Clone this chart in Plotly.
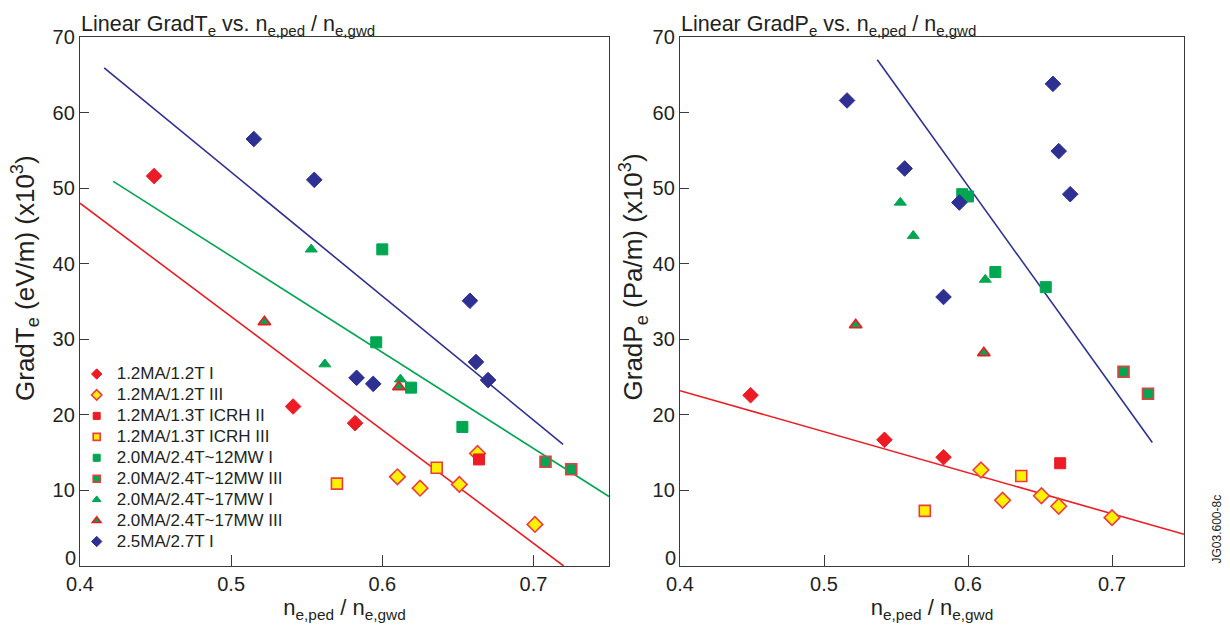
import plotly.graph_objects as go

# ---------------- data ----------------
# x: n_e,ped / n_e,gwd ; T: GradTe (x10^3 eV/m) ; P: GradPe (x10^3 Pa/m)
names = ["1.2MA/1.2T I", "1.2MA/1.2T III", "1.2MA/1.3T ICRH II", "1.2MA/1.3T ICRH III",
         "2.0MA/2.4T~12MW I", "2.0MA/2.4T~12MW III", "2.0MA/2.4T~17MW I",
         "2.0MA/2.4T~17MW III", "2.5MA/2.7T I"]

a_xT = [0.449, 0.541, 0.582]
a_yT = [51.6, 21.1, 18.9]
a_xP = [0.449, 0.542, 0.583]
a_yP = [22.6, 16.7, 14.4]

b_xT = [0.610, 0.625, 0.651, 0.663, 0.701]
b_yT = [11.8, 10.3, 10.8, 14.9, 5.5]
b_xP = [0.609, 0.624, 0.651, 0.663, 0.700]
b_yP = [12.7, 8.7, 9.3, 7.9, 6.4]

c_xT = [0.664]
c_yT = [14.1]
c_xP = [0.664]
c_yP = [13.6]

d_xT = [0.570, 0.636]
d_yT = [10.9, 13.0]
d_xP = [0.570, 0.637]
d_yP = [7.3, 11.9]

e_xT = [0.600, 0.596, 0.619, 0.653]
e_yT = [41.9, 29.6, 23.6, 18.4]
e_xP = [0.596, 0.600, 0.619, 0.654]
e_yP = [49.2, 48.9, 38.9, 36.9]

f_xT = [0.708, 0.725]
f_yT = [13.8, 12.8]
f_xP = [0.708, 0.725]
f_yP = [25.7, 22.8]

g_xT = [0.553, 0.562, 0.612]
g_yT = [41.9, 26.7, 24.7]
g_xP = [0.553, 0.562, 0.612]
g_yP = [48.1, 43.7, 37.9]

h_xT = [0.522, 0.611]
h_yT = [32.3, 23.7]
h_xP = [0.522, 0.611]
h_yP = [31.9, 28.2]

i_xT = [0.515, 0.555, 0.658, 0.662, 0.670, 0.583, 0.594]
i_yT = [56.5, 51.1, 35.1, 27.0, 24.6, 24.9, 24.1]
i_xP = [0.516, 0.556, 0.594, 0.583, 0.659, 0.663, 0.671]
i_yP = [61.6, 52.6, 48.1, 35.6, 63.8, 54.9, 49.2]

# linear fits (end points)
fitT_red_x = [0.400, 0.720]
fitT_red_y = [48.0, 0.0]
fitT_green_x = [0.422, 0.750]
fitT_green_y = [50.9, 9.2]
fitT_blue_x = [0.416, 0.7196]
fitT_blue_y = [65.9, 16.1]
fitP_red_x = [0.400, 0.750]
fitP_red_y = [23.2, 4.2]
fitP_blue_x = [0.537, 0.728]
fitP_blue_y = [67.0, 16.35]

x_ticks = [0.4, 0.5, 0.6, 0.7]
y_ticks = [0, 10, 20, 30, 40, 50, 60, 70]
y_ticktext = ["", "10", "20", "30", "40", "50", "60", "70"]  # "0" drawn separately, raised

# ---------------- styles ----------------
RED = "#ED1C24"
EDGE = "#EE3B42"
YEL = "#FFF200"
GRN = "#00A651"
BLU = "#2E3192"
INK = "#231F20"
FONT = "Liberation Sans, Arial, sans-serif"

styles = [
    dict(symbol="diamond", color=RED, line=dict(color=RED, width=1), size=12),
    dict(symbol="diamond", color=YEL, line=dict(color=EDGE, width=1.6), size=12),
    dict(symbol="square", color=RED, line=dict(color=RED, width=1), size=11),
    dict(symbol="square", color=YEL, line=dict(color=EDGE, width=1.6), size=11),
    dict(symbol="square", color=GRN, line=dict(color=GRN, width=1), size=11),
    dict(symbol="square", color=GRN, line=dict(color=EDGE, width=1.6), size=11),
    dict(symbol="triangle-up", color=GRN, line=dict(color=GRN, width=1), size=10.5),
    dict(symbol="triangle-up", color=GRN, line=dict(color=RED, width=1.6), size=11),
    dict(symbol="diamond", color=BLU, line=dict(color=BLU, width=1), size=12),
]
legend_sizes = [8, 8, 7, 7, 7, 7, 7.5, 7.5, 8]

seriesT = [(a_xT, a_yT), (b_xT, b_yT), (c_xT, c_yT), (d_xT, d_yT), (e_xT, e_yT),
           (f_xT, f_yT), (g_xT, g_yT), (h_xT, h_yT), (i_xT, i_yT)]
seriesP = [(a_xP, a_yP), (b_xP, b_yP), (c_xP, c_yP), (d_xP, d_yP), (e_xP, e_yP),
           (f_xP, f_yP), (g_xP, g_yP), (h_xP, h_yP), (i_xP, i_yP)]

fig = go.Figure()

# fit lines
for xs, ys, col, ax in [(fitT_red_x, fitT_red_y, RED, 1), (fitT_green_x, fitT_green_y, GRN, 1),
                        (fitT_blue_x, fitT_blue_y, BLU, 1), (fitP_red_x, fitP_red_y, RED, 2),
                        (fitP_blue_x, fitP_blue_y, BLU, 2)]:
    fig.add_trace(go.Scatter(x=xs, y=ys, mode="lines", line=dict(color=col, width=1.6),
                             showlegend=False, hoverinfo="skip",
                             xaxis="x" if ax == 1 else "x2", yaxis="y" if ax == 1 else "y2"))

for k, st in enumerate(styles):
    xs, ys = seriesT[k]
    fig.add_trace(go.Scatter(x=xs, y=ys, mode="markers", marker=st, showlegend=False,
                             name=names[k], xaxis="x", yaxis="y"))
    xs, ys = seriesP[k]
    fig.add_trace(go.Scatter(x=xs, y=ys, mode="markers", marker=st, showlegend=False,
                             name=names[k], xaxis="x2", yaxis="y2"))

# legend entries (smaller markers, larger text than the row pitch implies)
for k, st in enumerate(styles):
    lst = dict(st)
    lst["size"] = legend_sizes[k]
    fig.add_trace(go.Scatter(x=[None], y=[None], mode="markers", marker=lst,
                             name='<span style="font-size:17px">' + names[k] + "</span>",
                             showlegend=True, xaxis="x", yaxis="y"))

# page body has an 8px default margin -> figure drawn at (8, 8)
OFF = 8
W, H = 1230 - OFF, 626 - OFF
L, R, T, B = 80 - OFF, 46, 37 - OFF, 60
PW = W - L - R
PH = H - T - B
d1 = [0, (609 - 80) / PW]
d2 = [(680 - 80) / PW, 1]

axis_common = dict(showline=True, linecolor="#3A3A3A", linewidth=1.3, mirror=True,
                   ticks="inside", tickcolor="#3A3A3A", tickwidth=1.3, showgrid=False,
                   zeroline=False, tickfont=dict(family=FONT, size=20, color=INK))
tick_font = dict(family=FONT, size=20, color=INK)
xtitle_font = dict(family=FONT, size=22, color=INK)
ytitle_font = dict(family=FONT, size=26, color=INK)

fig.update_layout(
    width=W, height=H, margin=dict(l=L, r=R, t=T, b=B),
    paper_bgcolor="white", plot_bgcolor="white",
    font=dict(family=FONT, color=INK),
    xaxis=dict(domain=d1, range=[0.4, 0.75], tickvals=x_ticks, ticklen=11, **axis_common,
               title=dict(text="n<sub>e,ped</sub> / n<sub>e,gwd</sub>", font=xtitle_font,
                          standoff=2)),
    yaxis=dict(domain=[0, 1], range=[0, 70], tickvals=y_ticks, ticktext=y_ticktext,
               ticklen=9, **axis_common),
    xaxis2=dict(domain=d2, range=[0.4, 0.75], tickvals=x_ticks, ticklen=11, anchor="y2",
                **axis_common,
                title=dict(text="n<sub>e,ped</sub> / n<sub>e,gwd</sub>", font=xtitle_font,
                           standoff=2)),
    yaxis2=dict(domain=[0, 1], range=[0, 70], tickvals=y_ticks, ticktext=y_ticktext,
                ticklen=9, anchor="x2", **axis_common),
    legend=dict(x=-0.003, y=0.016, xanchor="left", yanchor="bottom", bgcolor="rgba(0,0,0,0)",
                font=dict(family=FONT, size=13.8, color=INK), tracegroupgap=0,
                itemwidth=30),
    showlegend=True,
)

# raised "0" tick labels
for xd, yr in [(d1[0], "y"), (d2[0], "y2")]:
    fig.add_annotation(text=str(y_ticks[0]), xref="paper", yref=yr, x=xd, y=y_ticks[0],
                       xanchor="right", yanchor="middle", showarrow=False, font=tick_font,
                       xshift=-2, yshift=8)

# y-axis titles (rotated), bottom of text near y=403 px
ybot = (566 - 403) / PH
fig.add_annotation(text="GradT<sub>e</sub> (eV/m) (x10<sup>3</sup>)", textangle=-90,
                   xref="paper", yref="paper", x=d1[0], y=ybot, xanchor="center",
                   yanchor="bottom", showarrow=False, font=ytitle_font, xshift=-55)
fig.add_annotation(text="GradP<sub>e</sub> (Pa/m) (x10<sup>3</sup>)", textangle=-90,
                   xref="paper", yref="paper", x=d2[0], y=ybot, xanchor="center",
                   yanchor="bottom", showarrow=False, font=ytitle_font, xshift=-46)

title_font = dict(family=FONT, size=21.5, color=INK)
fig.add_annotation(text="Linear GradT<sub>e</sub> vs. n<sub>e,ped</sub> / n<sub>e,gwd</sub>",
                   xref="paper", yref="paper", x=d1[0], y=1, xanchor="left", yanchor="bottom",
                   showarrow=False, font=title_font, yshift=-4, xshift=-1)
fig.add_annotation(text="Linear GradP<sub>e</sub> vs. n<sub>e,ped</sub> / n<sub>e,gwd</sub>",
                   xref="paper", yref="paper", x=d2[0], y=1, xanchor="left", yanchor="bottom",
                   showarrow=False, font=title_font, yshift=-4, xshift=-1)
fig.add_annotation(text="JG03.600-8c", xref="paper", yref="paper", x=1, y=0,
                   xanchor="left", yanchor="bottom", showarrow=False, textangle=-90,
                   font=dict(family=FONT, size=12, color=INK), xshift=23, yshift=0)

fig.write_html("out.html")
